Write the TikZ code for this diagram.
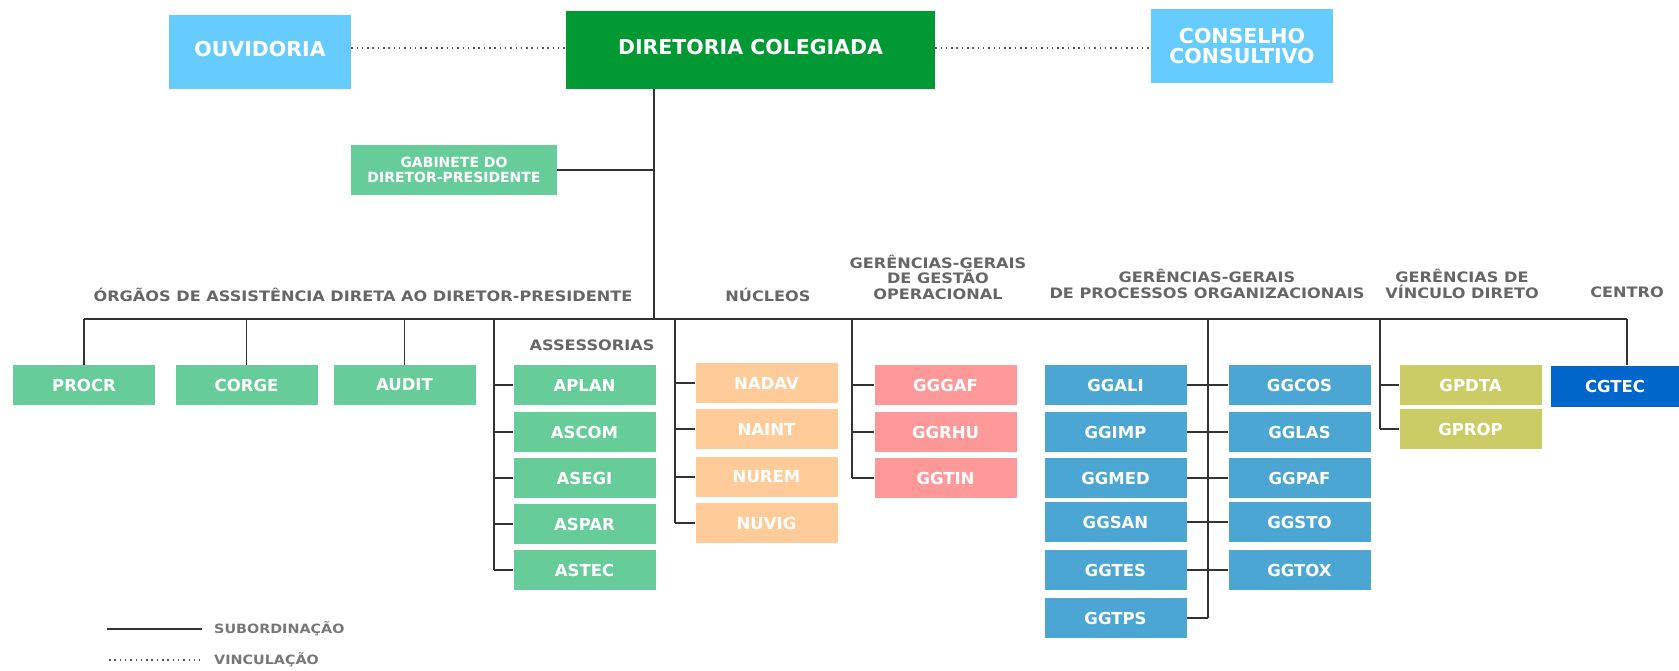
\documentclass[tikz,border=0pt]{standalone}
\usepackage{fontspec}
\setmainfont{DejaVu Sans}
\newfontfamily\labfont{DejaVu Sans}[FakeStretch=1.12]
\usetikzlibrary{calc}
\definecolor{cltblue}{HTML}{66CCFF}
\definecolor{cdg}{HTML}{009933}
\definecolor{cgreen}{HTML}{66CC99}
\definecolor{cpeach}{HTML}{FFCC99}
\definecolor{cpink}{HTML}{FF9999}
\definecolor{cblue}{HTML}{4CA6D4}
\definecolor{colive}{HTML}{CCCC66}
\definecolor{cnavy}{HTML}{0066CC}
\definecolor{labgray}{HTML}{666666}
\definecolor{lgray}{HTML}{777777}
\definecolor{linec}{HTML}{333333}
\tikzset{
  box/.style={fill=#1, text=white, font=\fontsize{16.5}{18}\selectfont\bfseries,
    minimum width=142pt, minimum height=40pt, inner sep=0pt, align=center},
  bigtxt/.style={font=\fontsize{20.5}{19.5}\selectfont\bfseries},
  lab/.style={text=labgray, font=\labfont\fontsize{14.4}{15.5}\selectfont\bfseries, align=center, inner sep=0pt},
  legtxt/.style={text=lgray, font=\labfont\fontsize{12.8}{14}\selectfont\bfseries, anchor=west, inner sep=0pt},
  sub/.style={draw=linec, line width=1.8pt},
  vinc/.style={draw=linec!85, line width=1.7pt, dash pattern=on 1.5pt off 3.8pt},
}
\begin{document}
\begin{tikzpicture}[x=1pt,y=-1pt]
\useasboundingbox (0,0) rectangle (1679,671);
% top
\node[box=cdg, bigtxt, minimum width=369pt, minimum height=78pt, text height=15pt, text depth=6pt] (dir) at (750.5,50) {DIRETORIA COLEGIADA};
\node[box=cltblue, bigtxt, minimum width=182pt, minimum height=74pt, text height=15pt, text depth=6pt] (ouv) at (260,52) {OUVIDORIA};
\node[box=cltblue, bigtxt, minimum width=182pt, minimum height=74pt] (cons) at (1242,46) {CONSELHO\\CONSULTIVO};
\node[box=cgreen, font=\fontsize{14}{15}\selectfont\bfseries, minimum width=206pt, minimum height=50pt] (gab) at (454,170) {GABINETE DO\\DIRETOR-PRESIDENTE};
\coordinate (dl) at (0,48);
\draw[vinc] (ouv.east |- dl) -- (dir.west |- dl);
\draw[vinc] (dir.east |- dl) -- (cons.west |- dl);
% spine and bus
\coordinate (spine) at (654,319);
\coordinate (busL) at (84,319);
\coordinate (busR) at (1627,319);
\draw[sub] (dir.south -| spine) -- (spine);
\draw[sub] (gab.east) -- (gab.east -| spine);
\draw[sub] (busL) -- (busR);
% labels
\node[lab] (lorg) at (363,295) {ÓRGÃOS DE ASSISTÊNCIA DIRETA AO DIRETOR-PRESIDENTE};
\node[lab] (lnuc) at (768,295) {NÚCLEOS};
\node[lab] (lges) at (938,277) {GERÊNCIAS-GERAIS\\DE GESTÃO\\OPERACIONAL};
\node[lab] (lpro) at (1207,284) {GERÊNCIAS-GERAIS\\DE PROCESSOS ORGANIZACIONAIS};
\node[lab] (lvin) at (1462,284) {GERÊNCIAS DE\\VÍNCULO DIRETO};
\node[lab] (lcen) at (1627,292) {CENTRO};
\node[lab] (lass) at (592,345) {ASSESSORIAS};
% direct organs
\node[box=cgreen] (procr) at (84,385) {PROCR};
\node[box=cgreen] (corge) at (246.5,385) {CORGE};
\node[box=cgreen] (audit) at (404.5,385) {AUDIT};
\foreach \n in {procr,corge,audit} \draw[sub] (\n.north |- busL) -- (\n.north);
% assessorias
\node[box=cgreen] (aplan) at (584.5,385) {APLAN};
\node[box=cgreen] (ascom) at (584.5,432) {ASCOM};
\node[box=cgreen] (asegi) at (584.5,478) {ASEGI};
\node[box=cgreen] (aspar) at (584.5,524) {ASPAR};
\node[box=cgreen] (astec) at (584.5,570) {ASTEC};
\coordinate (asx) at (494,319);
\draw[sub] (asx) -- (asx |- astec.west);
\foreach \n in {aplan,ascom,asegi,aspar,astec} \draw[sub] (asx |- \n.west) -- (\n.west);
% nucleos
\node[box=cpeach] (nadav) at (766.5,383) {NADAV};
\node[box=cpeach] (naint) at (766.5,429) {NAINT};
\node[box=cpeach] (nurem) at (766.5,477) {NUREM};
\node[box=cpeach] (nuvig) at (766.5,523) {NUVIG};
\coordinate (nux) at (675,319);
\draw[sub] (nux) -- (nux |- nuvig.west);
\foreach \n in {nadav,naint,nurem,nuvig} \draw[sub] (nux |- \n.west) -- (\n.west);
% gestao operacional
\node[box=cpink] (gggaf) at (945.5,385) {GGGAF};
\node[box=cpink] (ggrhu) at (945.5,432) {GGRHU};
\node[box=cpink] (ggtin) at (945.5,478) {GGTIN};
\coordinate (gox) at (852,319);
\draw[sub] (gox) -- (gox |- ggtin.west);
\foreach \n in {gggaf,ggrhu,ggtin} \draw[sub] (gox |- \n.west) -- (\n.west);
% processos organizacionais
\node[box=cblue] (ggali) at (1115.5,385) {GGALI};
\node[box=cblue] (ggimp) at (1115.5,432) {GGIMP};
\node[box=cblue] (ggmed) at (1115.5,478) {GGMED};
\node[box=cblue] (ggsan) at (1115.5,522) {GGSAN};
\node[box=cblue] (ggtes) at (1115.5,570) {GGTES};
\node[box=cblue] (ggtps) at (1115.5,618) {GGTPS};
\node[box=cblue] (ggcos) at (1299.5,385) {GGCOS};
\node[box=cblue] (gglas) at (1299.5,432) {GGLAS};
\node[box=cblue] (ggpaf) at (1299.5,478) {GGPAF};
\node[box=cblue] (ggsto) at (1299.5,522) {GGSTO};
\node[box=cblue] (ggtox) at (1299.5,570) {GGTOX};
\coordinate (prx) at (1208,319);
\draw[sub] (prx) -- (prx |- ggtps.east);
\foreach \a/\b in {ggali/ggcos,ggimp/gglas,ggmed/ggpaf,ggsan/ggsto,ggtes/ggtox} \draw[sub] (\a.east) -- (\b.west);
\draw[sub] (ggtps.east) -- (prx |- ggtps.east);
% vinculo direto
\node[box=colive] (gpdta) at (1470.5,385) {GPDTA};
\node[box=colive] (gprop) at (1470.5,429) {GPROP};
\coordinate (vix) at (1380,319);
\draw[sub] (vix) -- (vix |- gprop.west);
\foreach \n in {gpdta,gprop} \draw[sub] (vix |- \n.west) -- (\n.west);
% centro
\node[box=cnavy, minimum width=128pt, minimum height=41pt] (cgtec) at (1615,386) {CGTEC};
\draw[sub] (busR) -- (busR |- cgtec.north);
% legend
\coordinate (l1a) at (107,629);
\coordinate (l1b) at (202,629);
\coordinate (l2a) at (109,660);
\coordinate (l2b) at (200,660);
\draw[draw=linec, line width=2.6pt] (l1a) -- (l1b);
\draw[vinc, line width=1.3pt] (l2a) -- (l2b);
\node[legtxt] (tsub) at (214,629) {SUBORDINAÇÃO};
\node[legtxt] (tvin) at (214,660) {VINCULAÇÃO};
\end{tikzpicture}
\end{document}
